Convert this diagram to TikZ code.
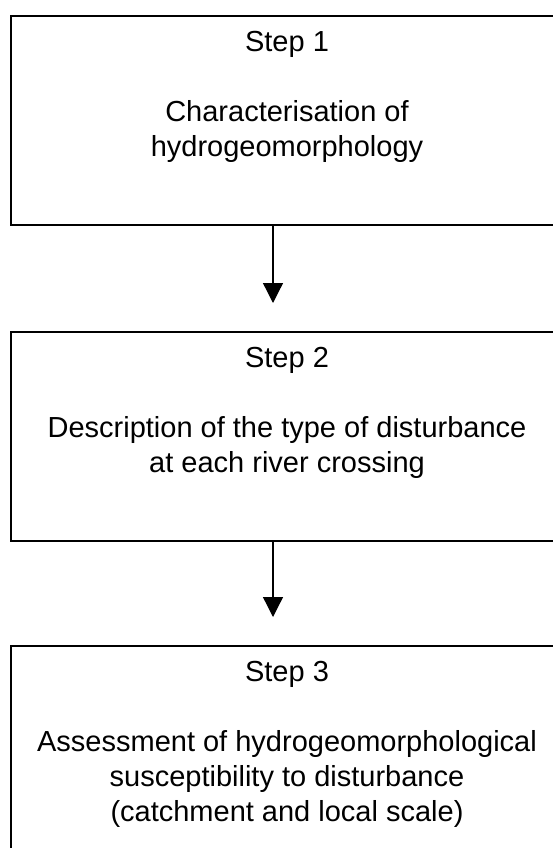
\documentclass[tikz,border=0pt]{standalone}
\usepackage{fontspec}
\setmainfont{Liberation Sans}
\usetikzlibrary{arrows.meta}

\begin{document}
\begin{tikzpicture}[x=1pt, y=-1pt,
  stepbox/.style={draw, line width=2pt, minimum width=552pt, minimum height=209pt, anchor=north west, inner sep=0pt},
  steptext/.style={anchor=north, align=center, inner sep=0pt, font=\fontsize{29}{35}\selectfont},
  >={Triangle[width=20pt,length=20pt]}]
\useasboundingbox (0,0) rectangle (552,848);

\node[stepbox] (box1) at (10,15) {};
\node[stepbox] (box2) at (10,331) {};
\node[stepbox] (box3) at (10,645) {};

\node[steptext] (text1) at ([yshift=-16pt]box1.north) {Step 1\\[35pt]Characterisation of\\hydrogeomorphology};
\node[steptext] (text2) at ([yshift=-16pt]box2.north) {Step 2\\[35pt]Description of the type of disturbance\\at each river crossing};
\node[steptext] (text3) at ([yshift=-16pt]box3.north) {Step 3\\[35pt]Assessment of hydrogeomorphological\\susceptibility to disturbance\\(catchment and local scale)};

\coordinate (tip1) at (273,303);
\coordinate (tip2) at (273,617);
\draw[->, line width=1.3pt] (box1.south -| tip1) -- (tip1);
\draw[->, line width=1.3pt] (box2.south -| tip2) -- (tip2);
\end{tikzpicture}
\end{document}
